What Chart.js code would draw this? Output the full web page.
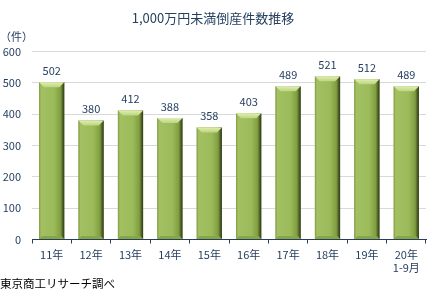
<!DOCTYPE html>
<html>
<head>
<meta charset="utf-8">
<script src="https://cdn.jsdelivr.net/npm/chart.js@4"></script>
<style>
  html, body { margin: 0; padding: 0; background: #fff; }
  #wrap { width: 437px; height: 297px; position: relative; }
</style>
</head>
<body>
<div id="wrap"><canvas id="chart" width="437" height="297"></canvas></div>
<script>
// Data
const years = ['11年', '12年', '13年', '14年', '15年', '16年', '17年', '18年', '19年', ['20年', '1-9月']];
const counts = [502, 380, 412, 388, 358, 403, 489, 521, 512, 489];
const yTicks = [0, 100, 200, 300, 400, 500, 600];

const textColor = '#243f60';
const fontFamily = '"Meiryo", "Noto Sans CJK JP", sans-serif';

// Bevelled green bars, drawn over the library's own bar elements
const bevelBars = {
  id: 'bevelBars',
  afterDatasetsDraw(chart) {
    const ctx = chart.ctx;
    const meta = chart.getDatasetMeta(0);
    ctx.save();
    meta.data.forEach((bar) => {
      const left = bar.x - bar.width / 2;
      const right = bar.x + bar.width / 2;
      const top = bar.y;
      const bottom = bar.base;
      const g = ctx.createLinearGradient(left, 0, right, 0);
      g.addColorStop(0, '#7f9c43');
      g.addColorStop(0.08, '#a3c163');
      g.addColorStop(0.6, '#9bba59');
      g.addColorStop(0.85, '#809e40');
      g.addColorStop(0.93, '#506329');
      g.addColorStop(1, '#2e3a16');
      ctx.fillStyle = g;
      ctx.fillRect(left, top, right - left, bottom - top);

      // top bevel
      const b = 5;
      const tg = ctx.createLinearGradient(0, top, 0, top + b);
      tg.addColorStop(0, '#e0eeb6');
      tg.addColorStop(1, '#bcd57e');
      ctx.fillStyle = tg;
      ctx.beginPath();
      ctx.moveTo(left, top);
      ctx.lineTo(right, top);
      ctx.lineTo(right - b, top + b);
      ctx.lineTo(left + b, top + b);
      ctx.closePath();
      ctx.fill();

      // bottom bevel
      ctx.fillStyle = '#88a548';
      ctx.beginPath();
      ctx.moveTo(left, bottom);
      ctx.lineTo(right, bottom);
      ctx.lineTo(right - 3, bottom - 3);
      ctx.lineTo(left + 3, bottom - 3);
      ctx.closePath();
      ctx.fill();
    });

    // value labels above the bars
    ctx.fillStyle = textColor;
    ctx.font = '11px ' + fontFamily;
    ctx.textAlign = 'center';
    ctx.textBaseline = 'bottom';
    meta.data.forEach((bar, i) => {
      ctx.fillText(String(counts[i]), bar.x, bar.y - 6);
    });
    ctx.restore();
  },
  afterDraw(chart) {
    const ctx = chart.ctx;
    ctx.save();
    ctx.fillStyle = textColor;
    ctx.font = '11px ' + fontFamily;
    ctx.textAlign = 'left';
    ctx.textBaseline = 'middle';
    ctx.fillText('（件）', 0, 37);
    ctx.fillStyle = '#000';
    ctx.font = '11.5px ' + fontFamily;
    ctx.fillText('東京商工リサーチ調べ', 0, 284);
    ctx.restore();
  }
};

new Chart(document.getElementById('chart'), {
  type: 'bar',
  data: {
    labels: years,
    datasets: [{
      data: counts,
      backgroundColor: '#9bbb59',
      categoryPercentage: 1,
      barPercentage: 0.64
    }]
  },
  options: {
    responsive: false,
    animation: false,
    layout: {
      padding: { left: 0, right: 11, top: 0, bottom: 18 }
    },
    scales: {
      x: {
        grid: {
          display: true,
          drawOnChartArea: false,
          drawTicks: true,
          tickLength: 4,
          color: '#243f60',
          offset: true
        },
        border: { display: true, color: '#243f60', width: 1 },
        ticks: {
          color: textColor,
          font: { size: 11, family: fontFamily, lineHeight: 1.25 },
          padding: 4,
          maxRotation: 0
        }
      },
      y: {
        min: 0,
        max: 600,
        afterFit(scale) { scale.width = 32; },
        afterBuildTicks(scale) { scale.ticks = yTicks.map(v => ({ value: v })); },
        grid: { color: '#d9d9d9', drawTicks: false },
        border: { display: false },
        ticks: {
          color: textColor,
          font: { size: 11, family: fontFamily },
          padding: 11
        }
      }
    },
    plugins: {
      legend: { display: false },
      tooltip: { enabled: false },
      title: {
        display: true,
        text: '1,000万円未満倒産件数推移',
        color: textColor,
        font: { size: 13, weight: 'normal', family: fontFamily },
        padding: { top: 10, bottom: 26 }
      }
    }
  },
  plugins: [bevelBars]
});
</script>
</body>
</html>
